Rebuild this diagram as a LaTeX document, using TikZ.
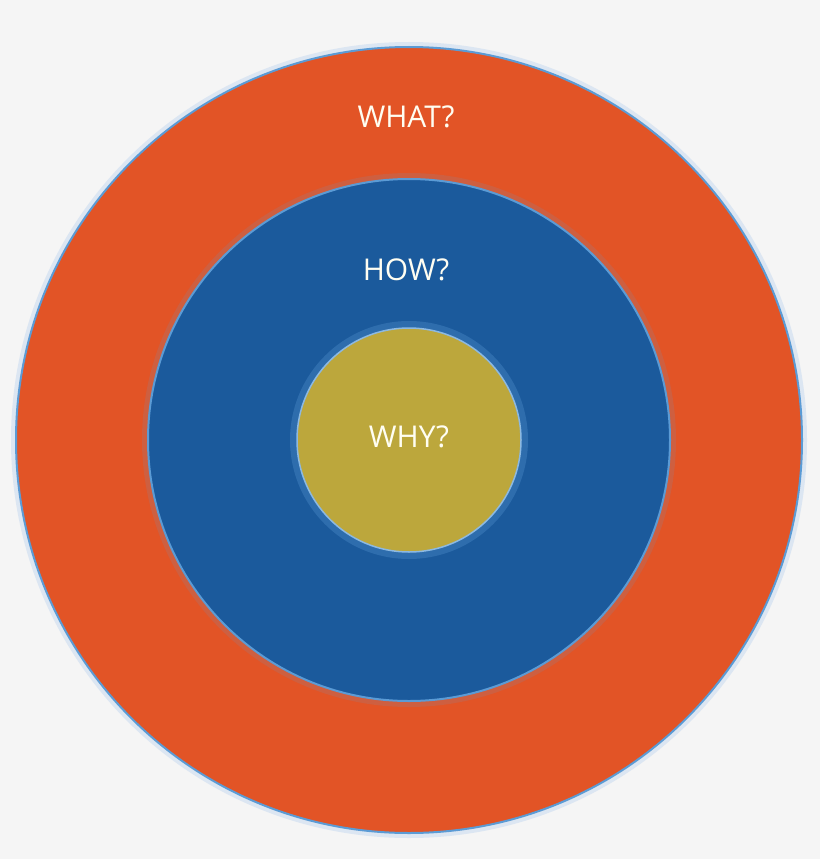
\documentclass[tikz,border=0pt]{standalone}
\usepackage{fontspec}
\setmainfont{Open Sans}
\definecolor{bg}{HTML}{F5F5F5}
\definecolor{org}{HTML}{E25426}
\definecolor{blu}{HTML}{1B5A9C}
\definecolor{yel}{HTML}{BCA73C}
\definecolor{edge}{HTML}{5B9BD5}
\definecolor{halo}{HTML}{DCE6F2}
\begin{document}
\begin{tikzpicture}[x=1pt,y=-1pt,
  ring/.style={draw=edge,line width=2pt},
  lbl/.style={text=white!95!yellow,font=\fontsize{30}{36}\selectfont}]
\fill[bg] (0,0) rectangle (820,859);
\useasboundingbox (0,0) rectangle (820,859);
\fill[halo] (409,440) circle (398);
\node[circle,ring,fill=org,minimum size=786pt,inner sep=0pt] (outer) at (409,440) {};
\fill[org!85!edge] (409,440) circle (267);
\node[circle,ring,fill=blu,minimum size=522pt,inner sep=0pt] (mid) at (409,440) {};
\fill[blu!70!edge] (409,440) circle (119);
\node[circle,draw=edge!70,line width=1.5pt,fill=yel,minimum size=224pt,inner sep=0pt] (core) at (409,440) {};
\node[lbl] (what) at (406,117) {WHAT?};
\node[lbl] (how) at (406,270) {HOW?};
\node[lbl] (why) at (409,437) {WHY?};
\end{tikzpicture}
\end{document}
